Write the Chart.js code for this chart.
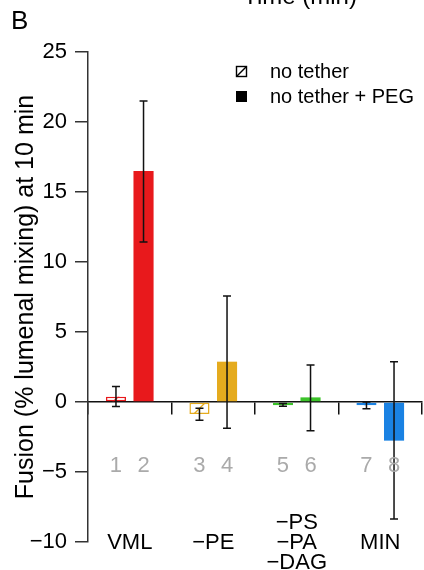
<!DOCTYPE html>
<html>
<head>
<meta charset="utf-8">
<script src="https://cdn.jsdelivr.net/npm/chart.js@4.4.1/dist/chart.umd.min.js"></script>
<style>
  html, body { margin: 0; padding: 0; background: #fff; }
</style>
</head>
<body>
<canvas id="chart" width="424" height="570"></canvas>
<script>
const categories = ["VML", "−PE", ["−PS", "−PA", "−DAG"], "MIN"];
const barNumbers = [["1", "3", "5", "7"], ["2", "4", "6", "8"]];

const noTether = [0.38, -0.86, -0.24, -0.24];
const noTetherLow = [-0.33, -1.3, -0.3, -0.48];
const noTetherHigh = [1.1, -0.45, -0.1, 0];

const withPeg = [16.5, 2.88, 0.33, -2.76];
const withPegLow = [11.43, -1.88, -2.05, -8.36];
const withPegHigh = [21.5, 7.57, 2.64, 2.88];

const yTicks = [-10, -5, 0, 5, 10, 15, 20, 25];
const groupColors = ["#E8191C", "#E5AB1E", "#3CC32A", "#1A82E3"];

const FONT = "'Liberation Sans', Arial, Helvetica, sans-serif";
const numberRow = -4.6;
const labelRow = -10.05;

const minus = (v) => (v < 0 ? "−" + Math.abs(v) : String(v));

// error bars, single-line hatching, grey bar numbers and category names
const barExtras = {
  id: "barExtras",
  afterDatasetsDraw(chart) {
    const { ctx } = chart;
    const yScale = chart.scales.y;
    chart.data.datasets.forEach((ds, i) => {
      const meta = chart.getDatasetMeta(i);
      meta.data.forEach((bar, j) => {
        const { x, y, base, width } = bar.getProps(["x", "y", "base", "width"], true);
        ctx.save();
        if (ds.hatched) {
          const top = Math.min(y, base);
          const bottom = Math.max(y, base);
          const cy = (top + bottom) / 2;
          const h = width / 2;
          ctx.beginPath();
          ctx.rect(x - h, top, width, bottom - top);
          ctx.clip();
          ctx.strokeStyle = groupColors[j];
          ctx.lineWidth = 1.3;
          ctx.beginPath();
          ctx.moveTo(x - h, cy + h);
          ctx.lineTo(x + h, cy - h);
          ctx.stroke();
        }
        ctx.restore();

        ctx.save();
        const lo = yScale.getPixelForValue(ds.low[j]);
        const hi = yScale.getPixelForValue(ds.high[j]);
        ctx.strokeStyle = "#111";
        ctx.lineWidth = 1.5;
        ctx.beginPath();
        ctx.moveTo(x, lo);
        ctx.lineTo(x, hi);
        ctx.moveTo(x - 4, lo);
        ctx.lineTo(x + 4, lo);
        ctx.moveTo(x - 4, hi);
        ctx.lineTo(x + 4, hi);
        ctx.stroke();

        ctx.fillStyle = "#aaaaaa";
        ctx.font = "22px " + FONT;
        ctx.textAlign = "center";
        ctx.textBaseline = "middle";
        ctx.fillText(barNumbers[i][j], x, yScale.getPixelForValue(numberRow));
        ctx.restore();
      });
    });
  },
  afterDraw(chart) {
    const { ctx } = chart;
    const xScale = chart.scales.x;
    const yScale = chart.scales.y;
    ctx.save();
    ctx.fillStyle = "#000";
    ctx.textBaseline = "middle";

    ctx.textAlign = "center";
    ctx.font = "22px " + FONT;
    const rowY = yScale.getPixelForValue(labelRow);
    categories.forEach((cat, i) => {
      const lines = [].concat(cat);
      const cx = xScale.getPixelForValue(i);
      lines.forEach((line, k) => {
        ctx.fillText(line, cx, rowY + (k - (lines.length - 1) / 2) * 20);
      });
    });

    ctx.textAlign = "left";
    ctx.font = "26px " + FONT;
    ctx.fillText("B", 11, 22);
    ctx.textAlign = "center";
    ctx.font = "24px " + FONT;
    ctx.fillText("Time (min)", 300, -3);

    // legend
    ctx.textAlign = "left";
    ctx.font = "20px " + FONT;
    ctx.strokeStyle = "#000";
    ctx.lineWidth = 1.4;
    ctx.strokeRect(236.5, 66.5, 10, 10);
    ctx.beginPath();
    ctx.moveTo(236.5, 76.5);
    ctx.lineTo(246.5, 66.5);
    ctx.stroke();
    ctx.fillText("no tether", 270, 72);
    ctx.fillRect(236, 91, 11, 11);
    ctx.fillText("no tether + PEG", 270, 97);
    ctx.restore();
  },
};

new Chart(document.getElementById("chart"), {
  type: "bar",
  data: {
    labels: categories,
    datasets: [
      {
        label: "no tether",
        data: noTether,
        low: noTetherLow,
        high: noTetherHigh,
        hatched: true,
        backgroundColor: "#ffffff",
        borderColor: groupColors,
        borderWidth: 1.5,
        borderSkipped: false,
      },
      {
        label: "no tether + PEG",
        data: withPeg,
        low: withPegLow,
        high: withPegHigh,
        backgroundColor: groupColors,
        borderWidth: 0,
      },
    ],
  },
  options: {
    responsive: false,
    animation: false,
    categoryPercentage: 0.66,
    barPercentage: 0.73,
    layout: { padding: { top: 52, right: 2, left: 0, bottom: 0 } },
    plugins: {
      legend: { display: false },
      tooltip: { enabled: false },
    },
    scales: {
      x: {
        grid: { display: false, drawTicks: false },
        border: { display: false },
        ticks: { display: false },
        afterFit: (s) => { s.height = 28; },
      },
      x2: {
        type: "category",
        position: { y: 0 },
        offset: true,
        z: 1,
        grid: { offset: true, drawOnChartArea: false, tickLength: 12, color: "#111", lineWidth: 1.5 },
        border: { display: true, color: "#111", width: 1.5 },
        ticks: { display: false },
      },
      y: {
        min: -10,
        max: 25,
        afterBuildTicks: (s) => { s.ticks = yTicks.map((v) => ({ value: v })); },
        grid: { drawOnChartArea: false, tickLength: 13, color: "#333", lineWidth: 1.5 },
        border: { display: true, color: "#333", width: 1.5 },
        ticks: {
          color: "#000",
          font: { family: FONT, size: 22 },
          padding: 8,
          callback: (v) => minus(v),
        },
        title: {
          display: true,
          text: "Fusion (% lumenal mixing) at 10 min",
          color: "#000",
          font: { family: FONT, size: 25 },
          padding: { top: 11, bottom: 0 },
        },
        afterFit: (s) => { s.width = 88; },
      },
    },
  },
  plugins: [barExtras],
});
</script>
</body>
</html>
